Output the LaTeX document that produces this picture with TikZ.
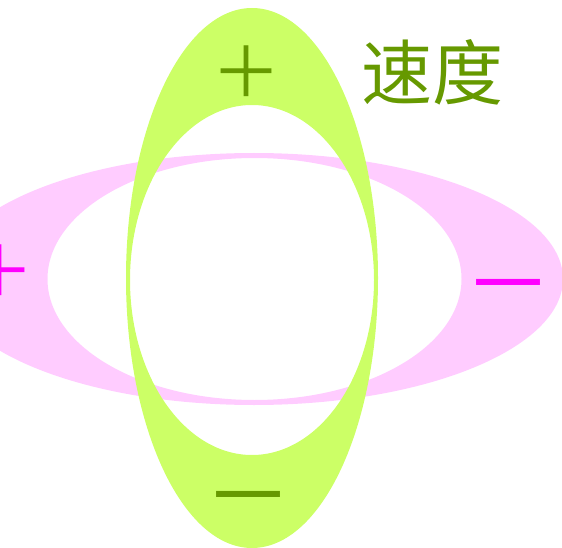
\documentclass[tikz,border=0pt]{standalone}
\usepackage{fontspec}
\newfontfamily\cjk{Noto Sans CJK SC}
\definecolor{vdfill}{HTML}{CCFF66}
\definecolor{vdtext}{HTML}{669900}
\definecolor{rsfill}{HTML}{FFCCFF}
\definecolor{rstext}{HTML}{FF00FF}
\tikzset{
  anelverde/.style={fill=vdfill,even odd rule},
  anelrosa/.style={fill=rsfill,even odd rule},
  sinal/.style={font=\cjk\fontsize{70}{70}\selectfont,inner sep=0pt},
  sinalmenos/.style={font=\cjk\fontsize{88}{88}\selectfont,inner sep=0pt},
  titulo/.style={font=\cjk\fontsize{71}{71}\selectfont,text=vdtext,inner sep=0pt},
}
\begin{document}
\begin{tikzpicture}[x=1pt,y=-1pt]
  \useasboundingbox (0,0) rectangle (562,548);
  \clip (0,0) rectangle (562,548);
  \fill[anelrosa] (254,279) ellipse [x radius=309,y radius=126]
                  (254.5,279) ellipse [x radius=207,y radius=121];   % horizontal
  \fill[anelverde] (252,278) ellipse [x radius=126,y radius=270]
                   (252,280) ellipse [x radius=122,y radius=175];    % vertical
  \node[titulo] (vel) at (432,72) {速度};
  \node[sinal,text=vdtext] (vmais) at (246,72) {＋};
  \node[sinalmenos,text=vdtext] (vmenos) at (248,509) {－};
  \node[sinal,text=rstext] (rmais) at (0,271) {＋};
  \node[sinalmenos,text=rstext] (rmenos) at (508,297) {－};
\end{tikzpicture}
\end{document}
